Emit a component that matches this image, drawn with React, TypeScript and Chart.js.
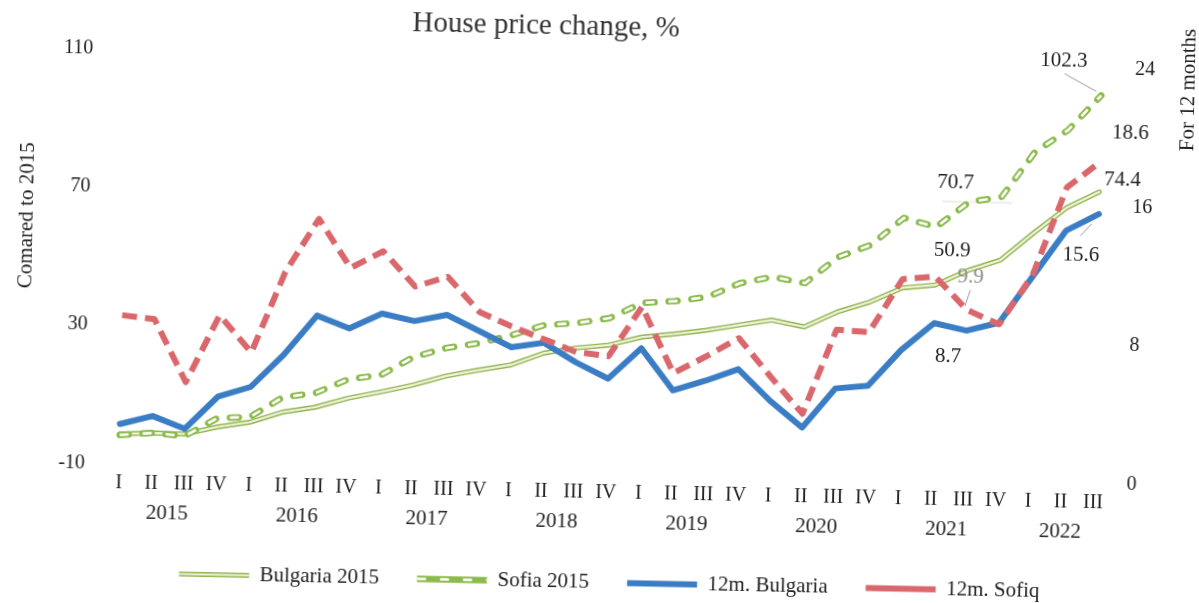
import React, { useEffect, useRef } from "react";
import { Chart, registerables } from "chart.js";

Chart.register(...registerables);

// ---------- data ----------
const chartTitle = "House price change, %";
const leftAxisTitle = "Comared to 2015";
const rightAxisTitle = "For 12 months";

const quarterLabels = [
  "I", "II", "III", "IV",
  "I", "II", "III", "IV",
  "I", "II", "III", "IV",
  "I", "II", "III", "IV",
  "I", "II", "III", "IV",
  "I", "II", "III", "IV",
  "I", "II", "III", "IV",
  "I", "II", "III",
];
const yearLabels = ["2015", "2016", "2017", "2018", "2019", "2020", "2021", "2022"];

const seriesNames = ["Bulgaria 2015", "Sofia 2015", "12m. Bulgaria", "12m. Sofiq"];

// compared to 2015 (left axis)
const bulgaria2015 = [
  -1.4, -0.9, -1.0, 1.2, 2.8, 5.9, 7.5, 10.3, 12.3, 14.5, 17.3, 19.2, 20.9, 24.5, 26.2, 27.2,
  29.7, 30.8, 32.1, 33.8, 35.4, 33.6, 38.1, 41.2, 45.5, 46.5, 50.9, 54.1, 62.1, 69.6, 74.4,
];
const sofia2015 = [
  -1.7, -0.9, -1.6, 3.8, 4.3, 10.2, 11.6, 15.8, 17.2, 22.6, 25.4, 27.0, 29.5, 32.6, 33.4, 35.0,
  39.6, 40.3, 41.7, 45.9, 47.9, 46.3, 54.0, 57.7, 65.7, 63.3, 70.7, 72.4, 85.6, 92.1, 102.3,
];
// for 12 months (right axis)
const bulgaria12m = [
  2.3, 2.8, 2.1, 4.0, 4.6, 6.5, 8.8, 8.1, 9.0, 8.6, 9.0, 8.1, 7.2, 7.5, 6.4, 5.5,
  7.3, 4.9, 5.5, 6.2, 4.4, 2.9, 5.2, 5.4, 7.5, 9.1, 8.7, 9.2, 11.9, 14.6, 15.6,
];
const sofia12m = [
  8.6, 8.4, 4.8, 8.7, 6.6, 11.3, 14.4, 11.6, 12.6, 10.6, 11.2, 9.2, 8.4, 7.7, 7.0, 6.8,
  9.7, 5.9, 6.9, 8.0, 5.8, 3.7, 8.6, 8.5, 11.6, 11.8, 9.9, 9.1, 12.0, 17.1, 18.6,
];

const leftMin = -10;
const leftMax = 110;
const leftStep = 40;
const rightMin = 0;
const rightMax = 24;
const rightStep = 8;

// ---------- styles ----------
const FONT = '"Liberation Serif", "Times New Roman", serif';
const TEXT = "#222222";
const GREEN_DOUBLE_OUT = "#93b455";
const GREEN_DOUBLE_IN = "#eef4d6";
const GREEN_DASH = "#8cba4e";
const BLUE = "#3b7dc4";
const RED = "#d9676b";
const SOFIA_DASH = [9, 14];
const RED_DASH = [15, 8];

// dataset indexes: 0 Bulgaria outer, 1 Bulgaria inner, 2 Sofia outer, 3 Sofia inner, 4 blue, 5 red
const labelSpecs = [
  { ds: 2, i: 30, dx: -38, dy: -34, color: TEXT, leader: [-37, -21, -5, -4] },
  { ds: 5, i: 30, dx: 30, dy: -30, color: TEXT },
  { ds: 0, i: 30, dx: 23, dy: -12, color: TEXT },
  { ds: 4, i: 30, dx: -17, dy: 42, color: TEXT, leader: [-18, 22, -7, 10] },
  { ds: 2, i: 26, dx: -14, dy: -19, color: TEXT },
  { ds: 0, i: 26, dx: -16, dy: -20, color: TEXT },
  { ds: 5, i: 26, dx: 3, dy: -33, color: "#8a8a8a", leader: [3, -20, -2, -4] },
  { ds: 4, i: 26, dx: -18, dy: 26, color: TEXT },
];

const annotatePlugin = {
  id: "annotate",
  beforeDatasetsDraw(chart: any) {
    const ctx = chart.ctx;
    const pt = chart.getDatasetMeta(2).data[26];
    if (!pt) return;
    ctx.save();
    ctx.strokeStyle = "#ededed";
    ctx.lineWidth = 2;
    ctx.beginPath();
    ctx.moveTo(pt.x - 27, pt.y);
    ctx.lineTo(pt.x + 43, pt.y);
    ctx.stroke();
    ctx.restore();
  },
  afterDraw(chart: any) {
    const ctx = chart.ctx;
    ctx.save();
    // title
    ctx.fillStyle = "#333333";
    ctx.font = `29px ${FONT}`;
    ctx.textAlign = "center";
    ctx.textBaseline = "middle";
    ctx.fillText(chartTitle, 540.5, 27.5);

    // axis titles (reading upward)
    ctx.fillStyle = TEXT;
    ctx.font = `21px ${FONT}`;
    ctx.save();
    ctx.translate(25, 227);
    ctx.rotate(-Math.PI / 2);
    ctx.fillText(leftAxisTitle, 0, 0);
    ctx.restore();
    ctx.save();
    ctx.translate(1184, 78);
    ctx.rotate(-Math.PI / 2);
    ctx.fillText(rightAxisTitle, 0, 0);
    ctx.restore();

    // years under the quarters
    const xs = chart.scales.x;
    const groups: number[][] = [];
    quarterLabels.forEach((q, i) => {
      if (q === "I" || groups.length === 0) groups.push([]);
      groups[groups.length - 1].push(xs.getPixelForValue(i));
    });
    ctx.font = `21px ${FONT}`;
    groups.forEach((g, k) => {
      const cx = g.reduce((a, b) => a + b, 0) / g.length;
      ctx.fillText(yearLabels[k], cx, 522.5);
    });

    // data labels
    for (const s of labelSpecs) {
      const pt = chart.getDatasetMeta(s.ds).data[s.i];
      if (!pt) continue;
      const v = chart.data.datasets[s.ds].data[s.i] as number;
      if (s.leader) {
        ctx.strokeStyle = "#9a9a9a";
        ctx.lineWidth = 1;
        ctx.beginPath();
        ctx.moveTo(pt.x + s.leader[0], pt.y + s.leader[1]);
        ctx.lineTo(pt.x + s.leader[2], pt.y + s.leader[3]);
        ctx.stroke();
      }
      ctx.fillStyle = s.color;
      ctx.font = `21px ${FONT}`;
      ctx.fillText(v.toFixed(1), pt.x + s.dx, pt.y + s.dy);
    }

    // legend overlays for the hollow styles
    const lg = chart.legend;
    if (lg && lg.legendItems && lg.legendHitBoxes) {
      lg.legendItems.forEach((it: any, j: number) => {
        const hb = lg.legendHitBoxes[j];
        if (!hb) return;
        const y = hb.top + 21 / 2;
        if (it.datasetIndex === 0) {
          ctx.setLineDash([]);
          ctx.strokeStyle = GREEN_DOUBLE_IN;
          ctx.lineWidth = 2.2;
          ctx.lineCap = "butt";
          ctx.beginPath();
          ctx.moveTo(hb.left, y);
          ctx.lineTo(hb.left + 70, y);
          ctx.stroke();
        } else if (it.datasetIndex === 2) {
          ctx.setLineDash(SOFIA_DASH);
          ctx.strokeStyle = "#ffffff";
          ctx.lineWidth = 2.6;
          ctx.lineCap = "butt";
          ctx.beginPath();
          ctx.moveTo(hb.left, y);
          ctx.lineTo(hb.left + 70, y);
          ctx.stroke();
          ctx.setLineDash([]);
        }
      });
    }
    ctx.restore();
  },
};

export default function App() {
  const ref = useRef<HTMLCanvasElement | null>(null);

  useEffect(() => {
    if (!ref.current) return;
    Chart.defaults.font.family = FONT;
    Chart.defaults.color = TEXT;
    const common = { pointRadius: 0, pointHoverRadius: 0, tension: 0, fill: false };
    const chart = new Chart(ref.current, {
      type: "line",
      data: {
        labels: quarterLabels,
        datasets: [
          {
            ...common, label: seriesNames[0], data: bulgaria2015, yAxisID: "yL",
            borderColor: GREEN_DOUBLE_OUT, backgroundColor: GREEN_DOUBLE_OUT, borderWidth: 5,
            borderCapStyle: "round", borderJoinStyle: "round", order: 6,
          },
          {
            ...common, label: "_inner_bg", data: bulgaria2015, yAxisID: "yL",
            borderColor: GREEN_DOUBLE_IN, backgroundColor: GREEN_DOUBLE_IN, borderWidth: 2.2,
            borderCapStyle: "round", borderJoinStyle: "round", order: 5,
          },
          {
            ...common, label: seriesNames[1], data: sofia2015, yAxisID: "yL",
            borderColor: GREEN_DASH, backgroundColor: GREEN_DASH, borderWidth: 6.5,
            borderDash: SOFIA_DASH, borderCapStyle: "round", borderJoinStyle: "round", order: 4,
          },
          {
            ...common, label: "_inner_sofia", data: sofia2015, yAxisID: "yL",
            borderColor: "#ffffff", backgroundColor: "#ffffff", borderWidth: 2.6,
            borderDash: SOFIA_DASH, borderCapStyle: "butt", borderJoinStyle: "round", order: 3,
          },
          {
            ...common, label: seriesNames[2], data: bulgaria12m, yAxisID: "yR",
            borderColor: BLUE, backgroundColor: BLUE, borderWidth: 6,
            borderCapStyle: "round", borderJoinStyle: "round", order: 2,
          },
          {
            ...common, label: seriesNames[3], data: sofia12m, yAxisID: "yR",
            borderColor: RED, backgroundColor: RED, borderWidth: 6,
            borderDash: RED_DASH, borderCapStyle: "butt", borderJoinStyle: "round", order: 1,
          },
        ],
      },
      options: {
        responsive: false,
        animation: false,
        devicePixelRatio: 1,
        events: [],
        layout: { padding: { left: 31, right: 0, top: 58.7, bottom: 0 } },
        plugins: {
          title: { display: false },
          tooltip: { enabled: false },
          legend: {
            position: "bottom",
            labels: {
              usePointStyle: true,
              pointStyle: "line",
              pointStyleWidth: 70,
              padding: 38,
              color: TEXT,
              font: { size: 21, family: FONT },
              filter: (item: any) => item.datasetIndex !== 1 && item.datasetIndex !== 3,
              sort: (a: any, b: any) => a.datasetIndex - b.datasetIndex,
            },
          },
        },
        scales: {
          x: {
            type: "category",
            offset: true,
            grid: { display: false, drawTicks: false },
            border: { display: false },
            ticks: {
              autoSkip: false, maxRotation: 0, minRotation: 0, padding: 7,
              color: TEXT, font: { size: 20, family: FONT },
            },
            afterFit: (s: any) => { s.height = 60.5; },
          },
          yL: {
            type: "linear",
            position: "left",
            min: leftMin,
            max: leftMax,
            grid: { display: false, drawTicks: false },
            border: { display: false },
            ticks: { stepSize: leftStep, padding: 18, color: TEXT, font: { size: 20, family: FONT } },
            afterFit: (s: any) => { s.width = 75.3; },
          },
          yR: {
            type: "linear",
            position: "right",
            min: rightMin,
            max: rightMax,
            grid: { display: false, drawTicks: false },
            border: { display: false },
            ticks: { stepSize: rightStep, padding: 17, color: TEXT, font: { size: 20, family: FONT } },
            afterFit: (s: any) => { s.width = 85.8; },
          },
        },
      },
      plugins: [annotatePlugin],
    } as any);
    return () => chart.destroy();
  }, []);

  return (
    <div
      style={{
        position: "fixed",
        left: 0,
        top: 0,
        width: 1199,
        height: 603,
        transform: "rotate(1.17deg)",
        transformOrigin: "50% 50%",
      }}
    >
      <canvas ref={ref} width={1199} height={603} style={{ display: "block", width: 1199, height: 603 }} />
    </div>
  );
}
